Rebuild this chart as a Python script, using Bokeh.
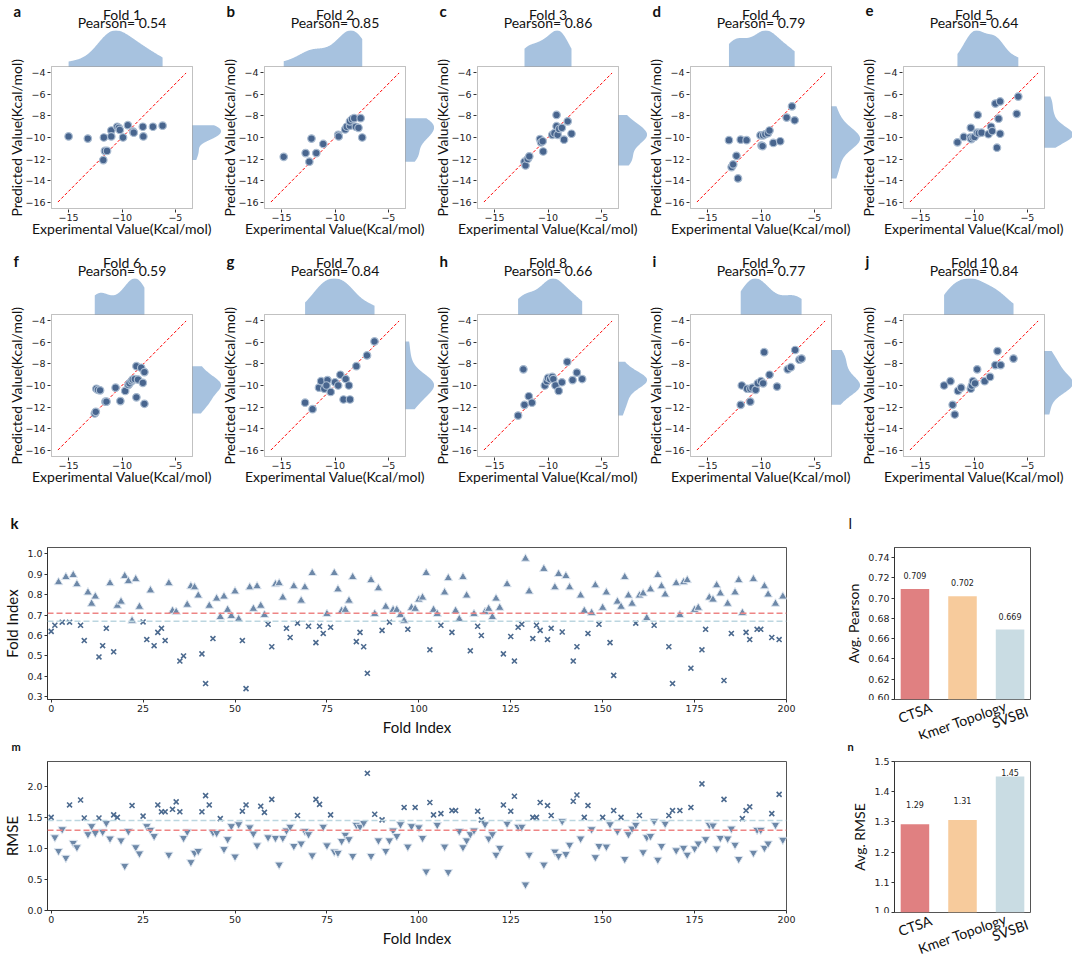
import numpy as np
from bokeh.plotting import figure
from bokeh.layouts import column, row
from bokeh.models import (Range1d, FixedTicker, NumeralTickFormatter, CustomJSTickFormatter,
                          Label, LabelSet, ColumnDataSource, Span, BoxAnnotation, Title)
from bokeh.core.properties import value
from bokeh.embed import file_html
from bokeh.resources import INLINE

# ---------------------------------------------------------------- data
fold_names = ["Fold 1", "Fold 2", "Fold 3", "Fold 4", "Fold 5",
              "Fold 6", "Fold 7", "Fold 8", "Fold 9", "Fold 10"]
panel_letters = ["a", "b", "c", "d", "e", "f", "g", "h", "i", "j"]
fold_pearson = [0.54, 0.85, 0.86, 0.79, 0.64, 0.59, 0.84, 0.66, 0.77, 0.84]

fold1_exp = [-15.0, -13.2, -11.75, -11.6, -11.4, -11.7, -11.0, -11.0, -10.45, -10.3, -10.2, -9.9, -9.45, -8.95, -8.9, -8.05, -8.0, -7.1, -6.2]
fold1_pred = [-9.9, -10.1, -12.1, -11.25, -11.25, -10.0, -9.35, -9.9, -9.0, -9.1, -9.3, -10.0, -8.85, -9.45, -9.55, -9.0, -9.9, -9.0, -8.9]
fold2_exp = [-14.8, -12.75, -12.2, -12.4, -11.75, -11.1, -9.7, -9.65, -9.05, -8.9, -8.6, -8.6, -8.4, -8.2, -8.05, -7.8, -7.6, -7.45]
fold2_pred = [-11.8, -11.45, -10.1, -12.25, -11.45, -10.6, -9.75, -9.9, -9.25, -9.0, -8.9, -8.5, -8.3, -8.2, -9.0, -9.1, -8.2, -10.0]
fold3_exp = [-12.2, -12.1, -11.9, -11.75, -10.75, -10.65, -10.5, -10.45, -9.6, -9.4, -9.2, -9.2, -9.1, -8.95, -8.7, -8.5, -8.15, -7.8]
fold3_pred = [-12.25, -12.6, -12.0, -11.75, -10.15, -10.45, -10.35, -11.3, -9.75, -9.6, -7.9, -8.95, -9.75, -9.2, -9.1, -10.2, -8.5, -9.65]
fold4_exp = [-13.0, -12.75, -12.6, -12.3, -12.15, -11.9, -11.35, -10.05, -9.95, -9.85, -9.8, -9.6, -9.35, -9.2, -8.85, -8.2, -7.6, -7.1, -6.85]
fold4_pred = [-10.25, -12.75, -12.5, -11.7, -13.8, -10.2, -10.25, -9.8, -10.75, -10.8, -9.8, -9.7, -9.6, -9.35, -10.5, -10.35, -8.15, -7.1, -8.4]
fold5_exp = [-11.55, -10.95, -10.35, -10.25, -10.1, -9.95, -10.3, -9.7, -9.55, -9.3, -9.65, -8.65, -8.4, -8.3, -8.0, -7.55, -7.85, -7.7, -7.55, -6.0, -5.85]
fold5_pred = [-10.45, -9.95, -10.0, -10.15, -10.0, -9.95, -9.1, -9.55, -9.6, -9.55, -7.9, -9.7, -9.0, -9.4, -6.85, -6.65, -10.95, -8.25, -9.65, -7.8, -6.2]
fold6_exp = [-12.55, -12.45, -12.4, -12.25, -12.05, -11.55, -11.45, -10.6, -10.15, -9.7, -9.4, -9.3, -9.1, -9.0, -8.8, -8.65, -8.65, -8.5, -8.2, -8.05, -7.9, -7.9]
fold6_pred = [-12.6, -12.45, -10.3, -10.4, -10.45, -11.5, -11.5, -10.2, -11.45, -10.5, -9.95, -9.8, -9.6, -9.45, -9.4, -8.2, -11.1, -9.45, -8.35, -9.75, -8.75, -11.7]
fold7_exp = [-12.8, -12.1, -11.5, -11.3, -11.0, -10.7, -10.4, -10.0, -9.7, -9.5, -9.2, -9.0, -8.7, -8.6, -8.0, -7.0, -6.3, -10.8]
fold7_pred = [-11.6, -12.2, -10.2, -9.6, -10.3, -9.5, -10.6, -9.7, -10.0, -9.0, -11.3, -9.4, -10.0, -11.3, -8.2, -7.2, -5.9, -10.0]
fold8_exp = [-12.8, -12.3, -12.2, -11.8, -11.5, -10.3, -10.1, -10.0, -9.8, -9.6, -9.5, -9.3, -9.0, -8.7, -8.2, -7.7, -7.3, -6.8]
fold8_pred = [-12.8, -8.5, -11.8, -11.0, -11.6, -10.0, -9.6, -9.3, -9.4, -9.2, -9.4, -10.0, -10.5, -9.7, -7.8, -9.5, -8.8, -9.4]
fold9_exp = [-11.9, -11.8, -11.3, -11.0, -11.0, -10.8, -10.5, -10.3, -10.0, -9.8, -9.7, -9.2, -8.5, -7.5, -7.2, -6.8, -6.4, -6.2]
fold9_pred = [-11.8, -10.0, -10.3, -10.3, -11.5, -10.2, -10.4, -9.8, -9.6, -9.8, -6.9, -9.0, -10.1, -8.5, -8.3, -6.7, -7.6, -7.5]
fold10_exp = [-12.8, -12.2, -12.0, -11.8, -11.5, -11.2, -10.3, -10.2, -10.1, -9.9, -9.7, -9.0, -8.5, -8.0, -7.8, -7.5, -6.3]
fold10_pred = [-10.0, -9.6, -11.8, -12.7, -10.5, -10.2, -10.3, -10.0, -9.6, -9.8, -8.5, -9.6, -9.2, -8.1, -6.8, -8.1, -7.5]

fold_exp = [fold1_exp, fold2_exp, fold3_exp, fold4_exp, fold5_exp,
            fold6_exp, fold7_exp, fold8_exp, fold9_exp, fold10_exp]
fold_pred = [fold1_pred, fold2_pred, fold3_pred, fold4_pred, fold5_pred,
             fold6_pred, fold7_pred, fold8_pred, fold9_pred, fold10_pred]
diagonal = [-16, -4]
axis_limits = [-16.6, -3.4]

fold_index = list(range(200))
ctsa_fold_pearson = [
    0.62, 0.65, 0.86, 0.665, 0.885, 0.665, 0.895, 0.85, 0.65, 0.575,
    0.81, 0.755, 0.79, 0.495, 0.55, 0.635, 0.855, 0.52, 0.745, 0.765,
    0.89, 0.865, 0.672, 0.875, 0.74, 0.666, 0.58, 0.82, 0.55, 0.615,
    0.635, 0.575, 0.855, 0.72, 0.715, 0.475, 0.50, 0.75, 0.84, 0.835,
    0.795, 0.51, 0.365, 0.745, 0.585, 0.78, 0.69, 0.79, 0.725, 0.695,
    0.815, 0.68, 0.575, 0.34, 0.835, 0.73, 0.84, 0.745, 0.70, 0.655,
    0.545, 0.85, 0.855, 0.785, 0.635, 0.59, 0.84, 0.66, 0.77, 0.835,
    0.645, 0.905, 0.565, 0.645, 0.61, 0.705, 0.64, 0.905, 0.825, 0.72,
    0.725, 0.77, 0.885, 0.57, 0.615, 0.545, 0.415, 0.87, 0.705, 0.83,
    0.625, 0.74, 0.665, 0.725, 0.725, 0.70, 0.672, 0.63, 0.735, 0.73,
    0.775, 0.785, 0.905, 0.53, 0.725, 0.705, 0.65, 0.81, 0.88, 0.615,
    0.72, 0.68, 0.885, 0.795, 0.525, 0.705, 0.645, 0.60, 0.715, 0.73,
    0.69, 0.78, 0.735, 0.51, 0.85, 0.595, 0.475, 0.64, 0.655, 0.975,
    0.815, 0.585, 0.65, 0.625, 0.925, 0.58, 0.635, 0.835, 0.90, 0.617,
    0.89, 0.835, 0.475, 0.545, 0.795, 0.72, 0.61, 0.71, 0.845, 0.655,
    0.735, 0.81, 0.565, 0.405, 0.765, 0.74, 0.885, 0.795, 0.755, 0.66,
    0.795, 0.805, 0.685, 0.825, 0.65, 0.895, 0.84, 0.80, 0.545, 0.365,
    0.855, 0.70, 0.86, 0.87, 0.44, 0.725, 0.735, 0.53, 0.63, 0.785,
    0.775, 0.845, 0.805, 0.38, 0.755, 0.61, 0.81, 0.87, 0.71, 0.615,
    0.58, 0.875, 0.63, 0.63, 0.84, 0.80, 0.59, 0.755, 0.58, 0.79]
ctsa_fold_rmse = [
    1.50, 1.18, 0.96, 1.31, 0.85, 1.70, 1.09, 1.02, 1.78, 1.49,
    1.23, 1.36, 1.25, 1.49, 1.27, 1.41, 1.16, 1.54, 1.50, 1.13,
    0.72, 1.28, 1.69, 1.02, 0.92, 1.52, 1.36, 1.30, 1.20, 1.70,
    1.59, 1.59, 0.90, 1.63, 1.75, 1.59, 1.17, 1.27, 0.78, 0.93,
    0.96, 1.59, 1.85, 1.70, 1.26, 1.25, 1.48, 0.99, 1.15, 1.36,
    0.87, 1.39, 1.60, 1.70, 1.34, 1.24, 1.05, 1.68, 1.58, 1.18,
    1.79, 1.17, 0.74, 1.17, 1.29, 1.35, 1.04, 1.53, 1.08, 1.28,
    1.23, 0.89, 1.79, 1.71, 1.35, 1.05, 1.54, 0.95, 0.93, 1.12,
    1.22, 1.15, 0.88, 1.38, 1.35, 1.41, 2.21, 0.88, 1.55, 1.13,
    1.46, 0.96, 1.13, 1.29, 1.20, 1.39, 1.66, 1.03, 1.36, 1.66,
    1.34, 1.17, 0.63, 1.74, 1.54, 1.38, 1.56, 1.03, 0.62, 1.61,
    1.61, 1.28, 1.02, 1.13, 1.23, 1.29, 1.60, 1.46, 1.39, 1.16,
    1.23, 0.90, 1.01, 1.70, 1.40, 1.60, 1.84, 1.35, 1.35, 0.42,
    0.90, 1.50, 1.50, 1.74, 0.74, 1.69, 1.53, 0.95, 0.88, 1.44,
    0.91, 1.06, 1.76, 1.86, 1.16, 1.50, 1.69, 1.31, 0.86, 1.04,
    1.50, 1.03, 1.39, 1.61, 1.28, 1.50, 0.83, 1.23, 1.32, 1.38,
    1.53, 0.94, 1.18, 1.20, 1.44, 0.82, 1.04, 1.40, 1.53, 1.61,
    0.97, 1.61, 1.01, 0.90, 1.66, 1.00, 1.08, 2.04, 1.15, 1.38,
    1.37, 1.00, 1.17, 1.79, 1.16, 1.32, 1.06, 0.83, 1.48, 1.61,
    1.67, 0.93, 1.30, 1.30, 1.01, 1.08, 1.56, 1.38, 1.87, 1.14]

methods = ["CTSA", "Kmer Topology", "SVSBI"]
avg_pearson = [0.709, 0.702, 0.669]
avg_rmse = [1.292, 1.306, 1.450]

# ---------------------------------------------------------------- style
LAB_FONT = "Lato"
TICK_FONT = "DejaVu Sans"
KDE_COL = "#a7c2df"
PT_FILL, PT_LINE = "#48658e", "#a9bbd0"
TRI_FILL, TRI_LINE = "#6d88a8", "#dfe7f0"
X_COL = "#4c6a8f"
RED_LINE, BLUE_LINE = "#ee8585", "#bcd6e0"
BAR_COLS = ["#e08081", "#f7cb9c", "#c9dce3"]
FRAME_COL = "#333333"
TXT = "#111111"
PAGE_W = 1072
TEXT_LIFT = 3      # labels render slightly below their nominal baseline


def new_fig(w, h, lb, rb, tb, bb, **kw):
    p = figure(width=w, height=h, min_border_left=lb, min_border_right=rb,
               min_border_top=tb, min_border_bottom=bb, toolbar_location=None,
               output_backend="svg", title=None, **kw)
    p.grid.visible = False
    return p


def style_axes(p, tick_size="9.5px", label_size="14px", line=True):
    for ax in list(p.xaxis) + list(p.yaxis):
        ax.major_label_text_font = TICK_FONT
        ax.major_label_text_font_size = tick_size
        ax.major_label_text_color = "#222222"
        ax.axis_label_text_font = LAB_FONT
        ax.axis_label_text_font_size = label_size
        ax.axis_label_text_font_style = "normal"
        ax.axis_label_text_color = TXT
        ax.major_tick_out = 3
        ax.major_tick_in = 0
        ax.minor_tick_line_color = None
        ax.axis_line_color = FRAME_COL if line else None
        ax.major_tick_line_color = FRAME_COL
        ax.major_label_standoff = 2
        ax.axis_label_standoff = 3


def kde(vals, n=200):
    v = np.asarray(vals, float)
    bw = v.std(ddof=1) * len(v) ** (-1 / 5)
    g = np.linspace(v.min(), v.max(), n)
    d = np.exp(-0.5 * ((g[:, None] - v[None, :]) / bw) ** 2).sum(1) / (len(v) * bw * np.sqrt(2 * np.pi))
    return g, d


def header(h, page_top, items):
    """Strip whose frame is the whole canvas, in page pixel coordinates, carrying panel texts."""
    f = new_fig(PAGE_W, h, 0, 0, 0, 0, x_range=Range1d(0, PAGE_W),
                y_range=Range1d(page_top + h, page_top), x_axis_location=None, y_axis_location=None)
    f.outline_line_color = None
    for (x, y, txt, size, style, align) in items:
        f.add_layout(Label(x=x, y=y - TEXT_LIFT, text=txt, text_font=LAB_FONT, text_font_size=size,
                           text_font_style=style, text_align=align, text_baseline="alphabetic",
                           text_color=TXT))
    return f


minus_fmt = CustomJSTickFormatter(code="return String(tick).replace('-', '\\u2212');")

# ---------------------------------------------------------------- fold panels (one figure per panel)
FW, FH, MH, MWP = 141, 142, 38, 30
BOX_T = 36         # box top inside the cell (top marginal sits above it)
SX = (axis_limits[1] - axis_limits[0]) / FW
SY = (axis_limits[1] - axis_limits[0]) / FH
X_LABEL_W, Y_LABEL_W = 180, 158
CELL_W = [221, 213, 213, 213, 212]
CELL_LB = [50, 42, 42, 42, 42]


def fold_cell(k):
    r, c = divmod(k, 5)
    cw, lb = CELL_W[c], CELL_LB[c]
    bb = 41 if r == 0 else 43
    fw = cw - lb
    fh = BOX_T + FH + 1
    x0 = axis_limits[0] - SX
    y0 = axis_limits[0] - SY
    p = new_fig(cw, fh + bb, lb, 0, 0, bb,
                x_range=Range1d(x0, x0 + fw * SX), y_range=Range1d(y0, y0 + fh * SY))
    p.outline_line_color = None
    ex, pr = fold_exp[k], fold_pred[k]

    gx, dx = kde(ex)
    D = dx.max() * 1.05
    p.extra_y_ranges = {"top_kde": Range1d(-(FH + 1) / MH * D, (fh - FH - 1) / MH * D)}
    p.varea(x=gx, y1=np.zeros_like(dx), y2=dx, fill_color=KDE_COL, y_range_name="top_kde")

    gy, dy = kde(pr)
    Dy = dy.max() * 1.05
    p.extra_x_ranges = {"right_kde": Range1d(-(FW + 1) / MWP * Dy, (fw - FW - 1) / MWP * Dy)}
    p.harea(y=gy, x1=np.zeros_like(dy), x2=dy, fill_color=KDE_COL, x_range_name="right_kde")

    p.add_layout(BoxAnnotation(left=axis_limits[0], right=axis_limits[1],
                               bottom=axis_limits[0], top=axis_limits[1],
                               fill_color=None, line_color=FRAME_COL, line_width=1))
    p.line(diagonal, diagonal, line_color="red", line_dash="3 2", line_width=1)
    p.scatter(ex, pr, size=7.5, fill_color=PT_FILL, line_color=PT_LINE, line_width=1.2)

    p.xaxis.ticker = FixedTicker(ticks=[-15, -10, -5])
    p.yaxis.ticker = FixedTicker(ticks=[-16, -14, -12, -10, -8, -6, -4])
    p.xaxis.formatter = minus_fmt
    p.yaxis.formatter = minus_fmt
    style_axes(p, tick_size="9.5px", line=False)
    p.xaxis.major_label_standoff = 1

    # axis titles, centred on the box (the frame also holds the marginals)
    p.add_layout(Title(text="Experimental Value(Kcal/mol)", align="left", vertical_align="top",
                       offset=1 + FW / 2 - X_LABEL_W / 2, standoff=-8,
                       text_font=LAB_FONT, text_font_size="14px",
                       text_font_style="normal", text_color=TXT), "below")
    p.add_layout(Title(text="Predicted Value(Kcal/mol)", align="left", vertical_align="top",
                       offset=fh - (BOX_T + FH / 2 + Y_LABEL_W / 2), standoff=-8,
                       text_font=LAB_FONT, text_font_size="14px",
                       text_font_style="normal", text_color=TXT), "left")
    return p


cells = [fold_cell(k) for k in range(10)]
BOX_L = [sum(CELL_W[:c]) + CELL_LB[c] + 1 for c in range(5)]
BOX_CX = [bx + FW / 2 for bx in BOX_L]

# nominal baselines (page px) of panel letter, fold name and Pearson line for each row
ROW_TEXT_Y = [(13, 17, 25), (263, 265, 273)]
h1_items, h2_items = [], []
for k in range(10):
    r, c = divmod(k, 5)
    items = h1_items if r == 0 else h2_items
    ly, fy, py = ROW_TEXT_Y[r]
    items.append((BOX_L[c] - 38, ly, panel_letters[k], "15px", "bold", "left"))
    items.append((BOX_CX[c], fy, fold_names[k], "14px", "normal", "center"))
    items.append((BOX_CX[c], py, f"Pearson= {fold_pearson[k]:.2f}", "14px", "normal", "center"))

head1 = header(30, 0, h1_items)
head2 = header(28, 250, h2_items)
head3 = header(33, 500, [(10, 525, "k", "15px", "bold", "left"), (848, 525, "l", "15px", "normal", "left")])
head4 = header(16, 739, [(11, 749, "m", "11px", "bold", "left"), (847, 749, "n", "11px", "bold", "left")])

# ---------------------------------------------------------------- k : Pearson per fold
KLB, KW, KRB = 45, 741, 40
k_fig = new_fig(KLB + KW + KRB, 206, KLB, KRB, 14, 40, x_range=Range1d(-1, 200), y_range=Range1d(0.287, 1.03))
thr_p = avg_pearson[2]
hi_x = [i for i, v in zip(fold_index, ctsa_fold_pearson) if v >= thr_p]
hi_y = [v for v in ctsa_fold_pearson if v >= thr_p]
lo_x = [i for i, v in zip(fold_index, ctsa_fold_pearson) if v < thr_p]
lo_y = [v for v in ctsa_fold_pearson if v < thr_p]
k_fig.add_layout(Span(location=avg_pearson[0], dimension="width", line_color=RED_LINE, line_dash="6 3", line_width=1.5))
k_fig.add_layout(Span(location=avg_pearson[2], dimension="width", line_color=BLUE_LINE, line_dash="6 3", line_width=1.5))
k_fig.scatter(hi_x, hi_y, marker="triangle", size=8.5, fill_color=TRI_FILL, line_color=TRI_LINE, line_width=1)
k_fig.scatter(lo_x, lo_y, marker="x", size=7, line_color=X_COL, line_width=1.6)
k_fig.xaxis.ticker = FixedTicker(ticks=[0, 25, 50, 75, 100, 125, 150, 175, 200])
k_fig.yaxis.ticker = FixedTicker(ticks=[0.3, 0.4, 0.5, 0.6, 0.7, 0.8, 0.9, 1.0])
k_fig.yaxis.formatter = NumeralTickFormatter(format="0.0")
k_fig.xaxis.axis_label = "Fold Index"
k_fig.yaxis.axis_label = "Fold Index"
style_axes(k_fig, label_size="15px")
k_fig.outline_line_color = "#555555"

# ---------------------------------------------------------------- m : RMSE per fold
m_fig = new_fig(KLB + KW + KRB, 194, KLB, KRB, 6, 37, x_range=Range1d(-1, 200), y_range=Range1d(0, 2.4))
thr_r = avg_rmse[2]
good_x = [i for i, v in zip(fold_index, ctsa_fold_rmse) if v <= thr_r]
good_y = [v for v in ctsa_fold_rmse if v <= thr_r]
bad_x = [i for i, v in zip(fold_index, ctsa_fold_rmse) if v > thr_r]
bad_y = [v for v in ctsa_fold_rmse if v > thr_r]
m_fig.add_layout(Span(location=avg_rmse[0], dimension="width", line_color=RED_LINE, line_dash="6 3", line_width=1.5))
m_fig.add_layout(Span(location=avg_rmse[2], dimension="width", line_color=BLUE_LINE, line_dash="6 3", line_width=1.5))
m_fig.scatter(good_x, good_y, marker="inverted_triangle", size=8.5, fill_color=TRI_FILL, line_color=TRI_LINE, line_width=1)
m_fig.scatter(bad_x, bad_y, marker="x", size=7, line_color=X_COL, line_width=1.6)
m_fig.xaxis.ticker = FixedTicker(ticks=[0, 25, 50, 75, 100, 125, 150, 175, 200])
m_fig.yaxis.ticker = FixedTicker(ticks=[0.0, 0.5, 1.0, 1.5, 2.0])
m_fig.yaxis.formatter = NumeralTickFormatter(format="0.0")
m_fig.xaxis.axis_label = "Fold Index"
m_fig.yaxis.axis_label = "RMSE"
style_axes(m_fig, label_size="15px")
m_fig.outline_line_color = "#555555"

# ---------------------------------------------------------------- l / n : averages
BW, BLB, BRB = 136, 68, 42
XB = (-0.43, 2.43)
ANG = 0.34
CAT_DROP = [13, 21, 17.5]   # px below the box of each rotated category name's centre


def bar_panel(tb, fh, strip_h, vals, yr, ticks, fmt, ylabel, lab_fmt, lab_off, lab_cap):
    b = new_fig(BLB + BW + BRB, tb + fh + 1, BLB, BRB, tb, 1, x_range=Range1d(*XB), y_range=Range1d(*yr),
                x_axis_location=None)
    idx = list(range(len(methods)))
    b.vbar(x=idx, top=vals, bottom=yr[0], width=0.6, fill_color=BAR_COLS, line_color=None)
    b.yaxis.ticker = FixedTicker(ticks=ticks)
    b.yaxis.formatter = NumeralTickFormatter(format=fmt)
    b.yaxis.axis_label = ylabel
    style_axes(b, label_size="14px")
    b.outline_line_color = "#555555"
    for i, v in zip(idx, vals):
        b.add_layout(Label(x=i, y=min(v + lab_off, lab_cap), text=lab_fmt.format(v),
                           text_font=TICK_FONT, text_font_size="8px", text_align="center",
                           text_baseline="middle", text_color="#222222"))
    # category names, rotated, in a strip right below the box that uses the same x scale
    s = new_fig(BLB + BW + BRB, strip_h, BLB, BRB, 0, 0,
                x_range=b.x_range, y_range=Range1d(strip_h, 0),
                x_axis_location=None, y_axis_location=None)
    s.outline_line_color = None
    src = ColumnDataSource(dict(x=idx, y=[d - 1 for d in CAT_DROP], text=methods))
    s.add_layout(LabelSet(source=src, x="x", y="y", text="text", angle=ANG,
                          text_align="center", text_baseline="middle",
                          text_font=value(LAB_FONT), text_font_size=value("14px"),
                          text_color=TXT))
    return column(b, s)


l_col = bar_panel(14, 152, 39, avg_pearson, (0.6, 0.75),
                  [0.60, 0.62, 0.64, 0.66, 0.68, 0.70, 0.72, 0.74],
                  "0.00", "Avg. Pearson", "{:.3f}", 0.013, 10)
n_col = bar_panel(6, 151, 42, avg_rmse, (1.0, 1.5), [1.0, 1.1, 1.2, 1.3, 1.4, 1.5],
                  "0.0", "Avg. RMSE", "{:.2f}", 0.065, 1.465)

layout = column(head1, row(*cells[:5]), head2, row(*cells[5:]),
                head3, row(k_fig, l_col), head4, row(m_fig, n_col))

with open("out.html", "w", encoding="utf-8") as fh_out:
    fh_out.write(file_html(layout, INLINE, title="Fold cross-validation"))
